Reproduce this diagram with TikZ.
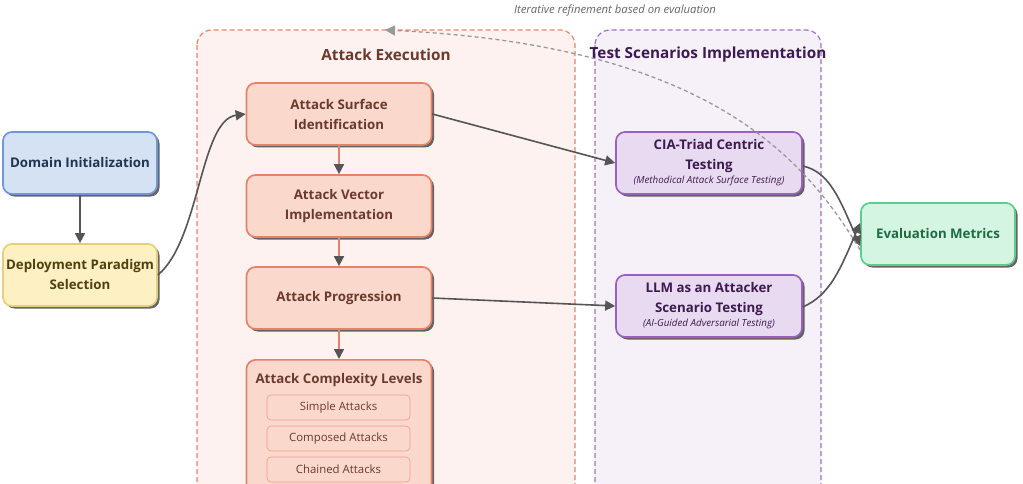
\documentclass[tikz,border=0pt]{standalone}
\usepackage{fontspec}
\setmainfont{Open Sans}
\usetikzlibrary{shadows,arrows.meta}
\definecolor{blueF}{HTML}{D4E2F4}\definecolor{blueD}{HTML}{6E96D8}\definecolor{blueT}{HTML}{1F3550}
\definecolor{yelF}{HTML}{FDF1C4}\definecolor{yelD}{HTML}{E6CF78}\definecolor{yelT}{HTML}{4F4210}
\definecolor{redF}{HTML}{FBD8CC}\definecolor{redD}{HTML}{E5826B}\definecolor{redT}{HTML}{6B3A2E}
\definecolor{redC}{HTML}{FDF2EF}\definecolor{redCD}{HTML}{E8846C}
\definecolor{purF}{HTML}{E8DAF0}\definecolor{purD}{HTML}{9A60C0}\definecolor{purT}{HTML}{3D1A4F}
\definecolor{purC}{HTML}{F6F0F9}\definecolor{purCD}{HTML}{A070C8}
\definecolor{grnF}{HTML}{D3F5E2}\definecolor{grnD}{HTML}{5FCB8D}\definecolor{grnT}{HTML}{1E6B40}
\definecolor{arr}{HTML}{555555}
\newcommand\mysubtxt{\normalfont\itshape\fontsize{9.8}{11}\selectfont}
\begin{document}
\begin{tikzpicture}[x=1pt,y=-1pt,
  box/.style={rounded corners=9pt, draw, line width=1.7pt, minimum width=154pt, minimum height=62pt,
    align=center, inner sep=1pt, font=\bfseries\fontsize{13.3}{20}\selectfont,
    drop shadow={shadow xshift=2.5pt,shadow yshift=-2.5pt,fill=black!80,opacity=0.75}},
  abox/.style={box, minimum width=185pt, fill=redF, draw=redD, text=redT},
  pbox/.style={box, minimum width=186pt, fill=purF, draw=purD, text=purT},
  sub/.style={rounded corners=4pt, draw=redD!80, line width=0.6pt, fill=redF, text=redT,
    minimum width=143pt, minimum height=25pt, font=\fontsize{11.4}{13}\selectfont},
  cont/.style={rounded corners=15pt, dashed, dash pattern=on 5pt off 3pt, line width=1.2pt},
  conn/.style={draw=arr, line width=1.6pt, -{Triangle[length=10pt,width=10pt,fill=arr]}},
  vconn/.style={draw=redD, line width=1.6pt, -{Triangle[length=10pt,width=10pt,fill=arr,color=arr]}},
  ttl/.style={font=\bfseries\fontsize{15.3}{18}\selectfont}
]
\useasboundingbox (0,0) rectangle (1023,484);
\clip (0,0) rectangle (1023,484);
\fill[white] (0,0) rectangle (1023,484);

% containers
\draw[cont, draw=redCD, fill=redC] (197,30) rectangle (575,500);
\draw[cont, draw=purCD, fill=purC] (595,30) rectangle (821,500);
\node[ttl, text=redT] (tAE) at (386,55) {Attack Execution};

% left nodes
\node[box, fill=blueF, draw=blueD, text=blueT] (dom) at (80,163) {Domain Initialization};
\node[box, fill=yelF, draw=yelD, text=yelT] (dep) at (80,275) {Deployment Paradigm\\Selection};

% attack nodes
\node[abox] (asi) at (339,114) {Attack Surface\\Identification};
\node[abox] (avi) at (339,206) {Attack Vector\\Implementation};
\node[abox] (ap) at (339,298) {Attack Progression};
\node[abox, minimum height=150pt, anchor=north] (acl) at (339,359) {};
\node[font=\bfseries\fontsize{13.3}{15}\selectfont, text=redT] (aclt) at (339,380) {Attack Complexity Levels};
\node[sub] (s1) at (338.5,407.5) {Simple Attacks};
\node[sub] (s2) at (338.5,438.5) {Composed Attacks};
\node[sub] (s3) at (338.5,469.5) {Chained Attacks};

% purple nodes
\node[pbox] (cia) at (709,163) {CIA-Triad Centric\\Testing\\[-6pt]{\mysubtxt (Methodical Attack Surface Testing)}};
\node[pbox] (llm) at (709,306) {LLM as an Attacker\\Scenario Testing\\[-6pt]{\mysubtxt (AI-Guided Adversarial Testing)}};

% evaluation
\node[box, fill=grnF, draw=grnD, text=grnT] (ev) at (938,234) {Evaluation Metrics};

\node[ttl, text=purT] (tTS) at (708,55) {Test Scenarios Implementation};

% connectors
\draw[conn] (dom) -- (dep);
\draw[conn] (dep.east) .. controls (200,240) and (200,120) .. (asi.west);
\draw[vconn] (asi) -- (avi);
\draw[vconn] (avi) -- (ap);
\draw[vconn] (ap) -- (acl);
\draw[conn] (asi.east) -- (cia.west);
\draw[conn] (ap.east) -- (llm.west);
\draw[conn] ([yshift=-3pt]cia.east) .. controls (830,172) and (840,200) .. ([yshift=-12pt]ev.west);
\draw[conn] ([yshift=-1pt]llm.east) .. controls (830,295) and (840,270) .. ([yshift=11pt]ev.west);

% feedback
\coordinate (fbend) at (385,30);
\draw[draw=gray!80, line width=1.3pt, dash pattern=on 4pt off 3pt, -{Triangle[length=10pt,width=10pt,fill=gray!80]}]
  ([yshift=-16pt]ev.west) .. controls (800,150) and (700,45) .. (fbend);
\node[font=\itshape\fontsize{11.3}{13}\selectfont, text=black!60] (fbl) at (615,11) {Iterative refinement based on evaluation};
\end{tikzpicture}
\end{document}
